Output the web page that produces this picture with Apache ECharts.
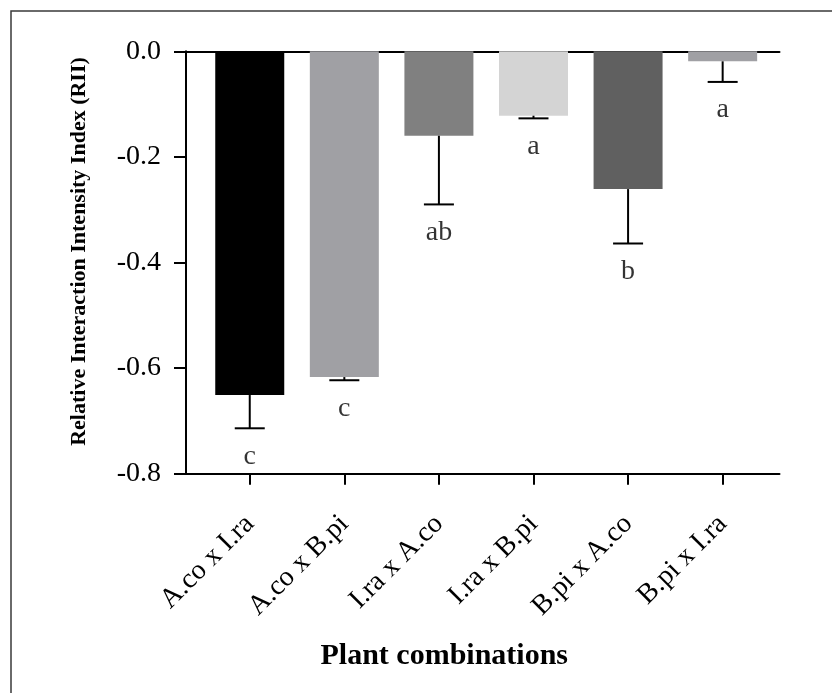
<!DOCTYPE html>
<html>
<head>
<meta charset="utf-8">
<script src="https://cdn.jsdelivr.net/npm/echarts@6/dist/echarts.min.js"></script>
<style>
html,body{margin:0;padding:0;background:#fff;}
#chart{width:832px;height:693px;}
</style>
</head>
<body>
<div id="chart"></div>
<script>
const categories = ['A.co x I.ra', 'A.co x B.pi', 'I.ra x A.co', 'I.ra x B.pi', 'B.pi x A.co', 'B.pi x I.ra'];
const means = [-0.651, -0.617, -0.160, -0.122, -0.261, -0.019];
const errors = [0.063, 0.006, 0.130, 0.005, 0.103, 0.039];
const letters = ['c', 'c', 'ab', 'a', 'b', 'a'];
const barColors = ['#000000', '#a0a0a4', '#808080', '#d4d4d4', '#606060', '#a0a0a4'];
const yTicks = [-0.8, -0.6, -0.4, -0.2, 0.0];

const FONT = 'Liberation Serif';
const idx = categories.map((c, i) => i);

const chart = echarts.init(document.getElementById('chart'), null, {renderer: 'canvas'});

const option = {
  backgroundColor: '#ffffff',
  animation: false,
  graphic: [{
    type: 'rect',
    left: 8.5, top: 8.5,
    shape: {width: 900, height: 800},
    style: {fill: 'none', stroke: '#3a3a3a', lineWidth: 1.5},
    silent: true
  }],
  grid: {left: 186, right: 52.5, top: 51.3, bottom: 219.3},
  xAxis: [{
    type: 'value',
    min: -0.674, max: 5.601,
    position: 'bottom',
    splitLine: {show: false},
    axisLine: {show: true, onZero: false, lineStyle: {color: '#000', width: 2}},
    axisTick: {show: true, length: 11, customValues: idx, lineStyle: {color: '#000', width: 2}},
    axisLabel: {
      customValues: idx,
      rotate: 45, margin: 46,
      formatter: v => categories[Math.round(v)] || '',
      fontFamily: FONT, fontSize: 28, color: '#000'
    },
    name: 'Plant combinations',
    nameLocation: 'middle',
    nameGap: 168,
    nameTextStyle: {fontFamily: FONT, fontSize: 30, fontWeight: 'bold', color: '#000', padding: [0, 77, 0, 0]}
  }, {
    type: 'value',
    min: -0.674, max: 5.601,
    position: 'top',
    splitLine: {show: false},
    axisLine: {show: true, onZero: false, lineStyle: {color: '#000', width: 2}},
    axisTick: {show: false},
    axisLabel: {show: false}
  }],
  yAxis: {
    type: 'value',
    min: -0.8, max: 0, interval: 0.2,
    splitLine: {show: false},
    axisLine: {show: true, onZero: false, lineStyle: {color: '#000', width: 2}},
    axisTick: {show: true, length: 12, lineStyle: {color: '#000', width: 2}},
    axisLabel: {
      margin: 25,
      formatter: v => v.toFixed(1),
      fontFamily: FONT, fontSize: 28, color: '#000'
    },
    name: 'Relative Interaction Intensity Index (RII)',
    nameLocation: 'middle',
    nameGap: 96,
    nameRotate: 90,
    nameTextStyle: {fontFamily: FONT, fontSize: 22, fontWeight: 'bold', color: '#000', padding: [0, 0, 0, 22]}
  },
  series: [{
    type: 'bar',
    xAxisIndex: 0,
    barWidth: 69,
    data: means.map((m, i) => ({value: [i, m], itemStyle: {color: barColors[i]}})),
    z: 2
  }, {
    type: 'custom',
    xAxisIndex: 0,
    z: 3,
    data: means.map((m, i) => [i, m, m - errors[i]]),
    renderItem: function (params, api) {
      const p0 = api.coord([api.value(0), api.value(1)]);
      const p1 = api.coord([api.value(0), api.value(2)]);
      const half = 15;
      return {
        type: 'group',
        children: [{
          type: 'line',
          shape: {x1: p0[0], y1: p0[1], x2: p1[0], y2: p1[1]},
          style: {stroke: '#000', lineWidth: 2}
        }, {
          type: 'line',
          shape: {x1: p1[0] - half, y1: p1[1], x2: p1[0] + half, y2: p1[1]},
          style: {stroke: '#000', lineWidth: 2}
        }]
      };
    }
  }, {
    type: 'scatter',
    xAxisIndex: 0,
    symbolSize: 0,
    z: 4,
    data: means.map((m, i) => [i, m - errors[i]]),
    label: {
      show: true,
      position: 'bottom',
      distance: 14,
      formatter: p => letters[p.dataIndex],
      fontFamily: FONT, fontSize: 28, color: '#000'
    }
  }]
};
chart.setOption(option);
</script>
</body>
</html>
